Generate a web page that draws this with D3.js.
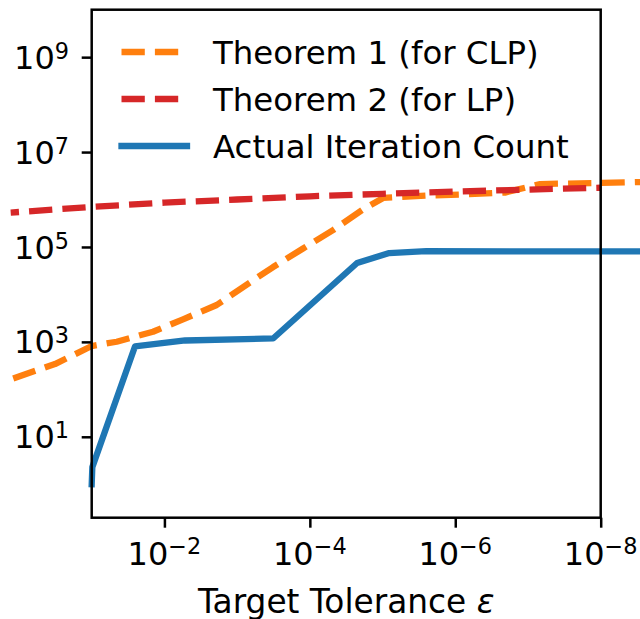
<!DOCTYPE html>
<html>
<head>
<meta charset="utf-8">
<script src="https://cdn.jsdelivr.net/npm/d3@7"></script>
<style>
  html, body { margin: 0; padding: 0; background: #fff; }
  svg { display: block; }
  text { font-family: "DejaVu Sans", sans-serif; fill: #000; }
</style>
</head>
<body>
<svg id="chart" width="640" height="619"></svg>
<script>
// ---- data ----
const theorem1Eps = [1.2, 0.32, 0.1, 0.0453, 0.01435, 5.55e-3, 1.91e-3, 7.8e-4, 3.2e-4, 1.24e-4, 4.8e-5, 1.91e-5, 9.8e-6, 2.5e-6, 8.3e-7, 3.0e-7, 2.07e-7, 6.8e-8, 1e-8, 2.0e-9];
const theorem1Val = [170, 341, 818, 1007, 1637, 2985, 5990, 15200, 37800, 92700, 227000, 601000, 1.08e6, 1.21e6, 1.27e6, 1.37e6, 1.40e6, 2.12e6, 2.23e6, 2.36e6];

const theorem2Eps = [1.3, 1e-1, 1e-2, 1e-3, 1e-4, 1e-5, 1e-6, 1e-7, 1e-8];
const theorem2Val = [5.3e5, 7.0e5, 8.6e5, 1.0e6, 1.17e6, 1.32e6, 1.47e6, 1.62e6, 1.77e6];

const actualEps = [0.1, 0.098, 0.0254, 5.2e-3, 3.2e-4, 2.24e-5, 8.1e-6, 2.5e-6, 2.0e-9];
const actualVal = [1.0, 2.3, 800, 1070, 1180, 46000, 74500, 81500, 80500];

const seriesNames = ["Theorem 1 (for CLP)", "Theorem 2 (for LP)", "Actual Iteration Count"];
const seriesColors = ["#ff7f0e", "#d62728", "#1f77b4"];

const xTicks = [1e-2, 1e-4, 1e-6, 1e-8];
const xTickExp = ["\u22122", "\u22124", "\u22126", "\u22128"];
const yTicks = [1e1, 1e3, 1e5, 1e7, 1e9];
const yTickExp = ["1", "3", "5", "7", "9"];
const xLabel = "Target Tolerance ";

// ---- layout ----
const L = 91.7, R = 600.7, T = 9.7, B = 517.7;
const svg = d3.select("#chart");
const x = d3.scaleLog().domain([1e-1, 1e-8]).range([L, R]);
const y = d3.scaleLog().domain([Math.pow(10, -0.705), 1e10]).range([B, T]);

const LW = 6.3;
const dash = (3.7 * LW).toFixed(1) + "," + (1.6 * LW).toFixed(1);

const line = d3.line().x(d => x(d[0])).y(d => y(d[1]));
const zip = (a, b) => a.map((v, i) => [v, b[i]]);

// blue
svg.append("path")
  .attr("d", line(zip(actualEps, actualVal)))
  .attr("fill", "none").attr("stroke", seriesColors[2])
  .attr("stroke-width", LW).attr("stroke-linecap", "square").attr("stroke-linejoin", "round");
// orange
svg.append("path")
  .attr("d", line(zip(theorem1Eps, theorem1Val)))
  .attr("fill", "none").attr("stroke", seriesColors[0])
  .attr("stroke-width", LW).attr("stroke-dasharray", dash).attr("stroke-linejoin", "round");
// red
svg.append("path")
  .attr("d", line(zip(theorem2Eps, theorem2Val)))
  .attr("fill", "none").attr("stroke", seriesColors[1])
  .attr("stroke-width", LW).attr("stroke-dasharray", dash).attr("stroke-dashoffset", 15)
  .attr("stroke-linejoin", "round");

// frame
svg.append("rect").attr("x", L).attr("y", T).attr("width", R - L).attr("height", B - T)
  .attr("fill", "none").attr("stroke", "#000").attr("stroke-width", 2.5);

// axes (ticks)
const gx = svg.append("g").attr("transform", `translate(0,${B})`)
  .call(d3.axisBottom(x).tickValues(xTicks).tickSize(10).tickFormat(""));
const gy = svg.append("g").attr("transform", `translate(${L},0)`)
  .call(d3.axisLeft(y).tickValues(yTicks).tickSize(10).tickFormat(""));
[gx, gy].forEach(g => {
  g.select(".domain").remove();
  g.selectAll(".tick line").attr("stroke", "#000").attr("stroke-width", 2.5);
});

// x tick labels
xTicks.forEach((t, i) => {
  const tx = svg.append("text").attr("x", x(t)).attr("y", 565.3)
    .attr("text-anchor", "middle").attr("font-size", 32);
  tx.append("tspan").text("10");
  tx.append("tspan").attr("font-size", 22.4).attr("dy", -11).text(xTickExp[i]);
});
// y tick labels
yTicks.forEach((t, i) => {
  const ty = svg.append("text").attr("x", 69).attr("y", y(t) + 11.6)
    .attr("text-anchor", "end").attr("font-size", 32);
  ty.append("tspan").text("10");
  ty.append("tspan").attr("font-size", 22.4).attr("dy", -10).text(yTickExp[i]);
});

// x axis label
const xl = svg.append("text").attr("x", (L + R) / 2).attr("y", 612.5)
  .attr("text-anchor", "middle").attr("font-size", 32.8);
xl.append("tspan").text(xLabel);
xl.append("tspan").attr("font-style", "italic").text("\u03b5");

// legend
const legY = [52, 99, 146];
seriesNames.forEach((name, i) => {
  const ln = svg.append("line").attr("x1", 121.5).attr("x2", 187).attr("y1", legY[i]).attr("y2", legY[i])
    .attr("stroke", seriesColors[i]).attr("stroke-width", LW);
  if (i < 2) ln.attr("stroke-dasharray", dash);
  else ln.attr("stroke-linecap", "square");
  svg.append("text").attr("x", 213).attr("y", legY[i] + 11.7).attr("font-size", 32.4).text(name);
});
</script>
</body>
</html>
